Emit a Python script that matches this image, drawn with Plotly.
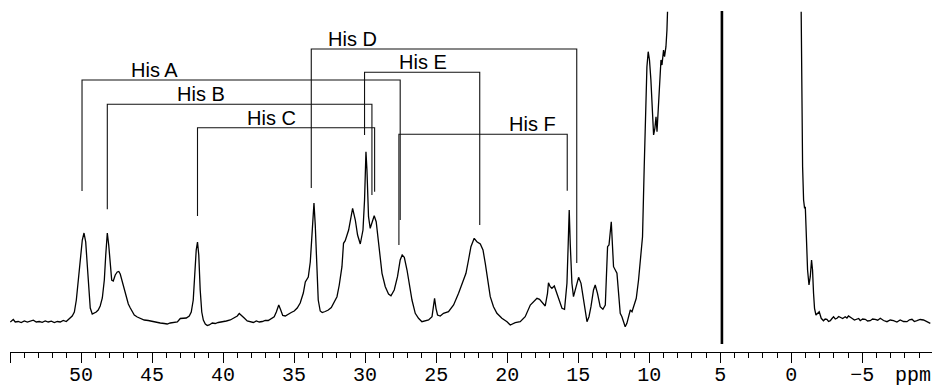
import plotly.graph_objects as go

# ---- spectrum (ppm, intensity in arbitrary units); off-scale region split in two segments
left_ppm = [54.98, 54.77, 54.63, 54.42, 54.21, 53.99, 53.78, 53.57, 53.36, 53.15, 52.94, 52.73, 52.52, 52.31,
            52.09, 51.88, 51.67, 51.46, 51.25, 51.04, 50.90, 50.76, 50.62, 50.47, 50.33, 50.19, 50.05, 49.91,
            49.79, 49.67, 49.56, 49.45, 49.35, 49.21, 49.07, 48.93, 48.79, 48.65, 48.50, 48.36, 48.26, 48.15,
            48.05, 47.94, 47.84, 47.73, 47.59, 47.45, 47.34, 47.24, 47.10, 46.96, 46.81, 46.67, 46.53, 46.39,
            46.25, 46.04, 45.83, 45.55, 45.27, 44.98, 44.70, 44.42, 44.14, 43.93, 43.72, 43.44, 43.22, 43.01,
            42.80, 42.59, 42.38, 42.24, 42.10, 41.99, 41.89, 41.80, 41.71, 41.61, 41.50, 41.39, 41.25, 41.11,
            40.97, 40.76, 40.55, 40.34, 40.06, 39.77, 39.49, 39.21, 39.00, 38.86, 38.72, 38.51, 38.30, 38.09,
            37.87, 37.66, 37.45, 37.24, 37.03, 36.82, 36.61, 36.40, 36.25, 36.08, 35.94, 35.80, 35.62, 35.41,
            35.20, 34.99, 34.78, 34.57, 34.35, 34.21, 34.00, 33.86, 33.76, 33.65, 33.60, 33.51, 33.40, 33.30,
            33.16, 33.02, 32.81, 32.59, 32.38, 32.17, 31.98, 31.82, 31.63, 31.52, 31.40, 31.16, 31.01, 30.88,
            30.69, 30.53, 30.34, 30.15, 30.04, 29.94, 29.87, 29.76, 29.64, 29.52, 29.36, 29.22, 29.05, 28.93,
            28.81, 28.58, 28.35, 28.18, 27.95, 27.72, 27.53, 27.39, 27.24, 27.05, 26.87, 26.70, 26.47, 26.24,
            26.00, 25.77, 25.53, 25.29, 25.18, 25.11, 25.01, 24.90, 24.71, 24.48, 24.13, 23.77, 23.42, 23.18,
            22.90, 22.72, 22.55, 22.32, 22.13, 21.89, 21.70, 21.54, 21.38, 21.19, 20.96, 20.72, 20.37, 20.01,
            19.78, 19.43, 19.08, 18.73, 18.37, 18.14, 17.90, 17.72, 17.55, 17.32, 17.16, 17.09, 16.97, 16.85,
            16.68, 16.54, 16.38, 16.14, 15.96, 15.79, 15.70, 15.63, 15.56, 15.44, 15.33, 15.21, 14.97, 14.80,
            14.66, 14.50, 14.38, 14.24, 14.10, 13.92, 13.80, 13.64, 13.45, 13.26, 13.09, 12.93, 12.83, 12.67,
            12.58, 12.51, 12.27, 12.16, 12.04, 11.92, 11.69, 11.57, 11.33, 11.21, 11.05, 10.91, 10.75, 10.58,
            10.47, 10.35, 10.26, 10.16, 10.07, 9.98, 9.88, 9.79, 9.69, 9.60, 9.52, 9.45, 9.36, 9.27, 9.17,
            9.10, 8.99, 8.92, 8.82, 8.75, 8.71]
left_int = [0, 2.5, 0, 0.5, -0.5, 1, 0, 0.7, 1.8, 0, 0.5, -0.3, 1, 0,
            0.8, -0.5, 0.5, 0, 1.5, 0.5, 2.5, 4, 6, 10, 22, 42, 64, 82,
            89, 80, 57, 32, 14, 8, 9, 10, 12, 16, 24, 42, 67, 89,
            77, 54, 42, 41, 47, 50, 50.5, 48, 41, 32, 24, 18, 14, 10,
            7, 5, 3.5, 2, 1.5, 0.5, -0.5, -1, -1.5, -2, -1, -0.5, 0, 3.5,
            3.5, 4, 6, 10, 22, 47, 72, 80, 67, 32, 10, 2, -2, -3.5,
            -3, -1, -1.5, -0.5, 0, 1, 2, 4, 6, 8.5, 7, 4, 1, 0.5,
            -0.5, 1, 0, 0.5, 1.5, 1.5, 3, 5.3, 10, 17, 12, 6.5, 6, 8,
            9.5, 11, 14, 19, 29, 40, 45, 60, 87, 117, 119, 97, 52, 22,
            11, 9.5, 10.5, 12, 14.5, 20, 25.3, 37, 55.3, 78.7, 81.3, 92, 105, 113.7,
            102, 87, 78, 92, 122, 170.3, 152, 105.3, 93.7, 100.3, 106.3, 100.3, 78.7, 62,
            48.7, 35.3, 28, 26.3, 32, 45.3, 62, 67, 64.7, 52, 35.3, 22, 8.7, 3.7,
            0.3, 1.3, 2, 5.3, 15.3, 23.7, 13.7, 7, 6, 8.7, 10.3, 17, 28.7, 38.7,
            48.7, 62, 75.3, 83.7, 80.3, 78, 72, 58.7, 42, 25.3, 15.3, 8.7, 3.7, 0.3,
            -3, -0.7, 0.3, 5.3, 17, 20.3, 23.7, 22.7, 20.3, 16, 28.7, 39.3, 35.3, 33.7,
            36, 30.3, 25.3, 13.7, 12.7, 38.7, 78.7, 112, 78.7, 38.7, 25.3, 32, 44.7, 38.7,
            25.3, 7, 0.3, 5.3, 15.3, 32, 37, 28.7, 15.3, 12.7, 17, 75.3, 77, 100.3,
            78.7, 55.3, 48.7, 32, 8.7, 5.3, -4.7, -1.3, 12, 10.3, 17, 23.7, 42, 68.7,
            85.3, 155.3, 212, 255.3, 270.3, 262, 242, 212, 187, 193.7, 205.3, 190.3, 212, 245.3, 262,
            257, 272, 265.3, 275.3, 292, 310.3]

right_ppm = [-0.70, -0.75, -0.80, -0.87, -0.94, -0.99, -1.06, -1.15, -1.25, -1.34, -1.43, -1.50, -1.57,
             -1.64, -1.74, -1.85, -1.97, -2.11, -2.27, -2.39, -2.51, -2.63, -2.75, -2.87, -2.98, -3.10,
             -3.22, -3.34, -3.45, -3.62, -3.80, -3.92, -4.03, -4.15, -4.27, -4.45, -4.63, -4.75, -4.86,
             -5.03, -5.21, -5.38, -5.56, -5.73, -5.91, -6.09, -6.27, -6.50, -6.74, -6.97, -7.20, -7.44,
             -7.67, -7.91, -8.15, -8.32, -8.50, -8.67, -8.85, -9.08, -9.31, -9.55, -9.79]
right_int = [310.3, 222, 155.3, 122, 113.7, 115.3, 88.7, 52, 37, 45.3, 62, 52, 28.7,
             13.7, 7, 8.7, 10.3, 3.7, 1.3, 3, 2.7, 0.5, 1.3, 3.5, 5.3, 3,
             3.7, 5.5, 4.7, 3.5, 5.3, 4, 6, 4.5, 3.7, 2, 2.7, 3.5, 1.3,
             3, 2.7, 1, 1.3, 3, 2.7, 1.8, 3.7, 1.5, 0.3, 2, 1.3, 0,
             2, 0.5, 0.3, 2.2, 2.7, 0.5, 1.3, 2.5, 2, 0.2, -1.3]

# ---- solvent marker line
water_ppm = [4.88, 4.88]
water_int = [-22, 311]

# ---- assignment brackets
his_labels = ["His A", "His B", "His C", "His D", "His E", "His F"]
his_left_ppm = [49.93, 48.15, 41.80, 33.79, 30.04, 27.62]
his_right_ppm = [27.53, 29.52, 29.33, 15.10, 21.93, 15.77]
his_level = [242, 217.7, 194.3, 273, 249.7, 187.7]
his_left_end = [131, 112.7, 106, 134, 187, 77]
his_right_end = [102, 127, 130.3, 59, 97, 131.3]
his_label_ppm = [44.86, 41.53, 36.61, 30.90, 25.91, 18.23]

# ---- axis ticks
tick_vals = [55, 50, 45, 40, 35, 30, 25, 20, 15, 10, 5, 0, -5]
tick_text = ["", "50", "45", "40", "35", "30", "25", "20", "15", "10", "5", "0", "\u22125"]
axis_unit = "ppm"

fig = go.Figure()

line_style = dict(color="black", width=1.3)
fig.add_trace(go.Scatter(x=left_ppm, y=left_int, mode="lines", line=line_style, hoverinfo="skip"))
fig.add_trace(go.Scatter(x=right_ppm, y=right_int, mode="lines", line=line_style, hoverinfo="skip"))
fig.add_trace(go.Scatter(x=water_ppm, y=water_int, mode="lines",
                         line=dict(color="black", width=2.6), hoverinfo="skip"))

for lab, xl, xr, lev, bl, br, xt in zip(his_labels, his_left_ppm, his_right_ppm, his_level,
                                         his_left_end, his_right_end, his_label_ppm):
    fig.add_trace(go.Scatter(x=[xl, xl, xr, xr], y=[bl, lev, lev, br], mode="lines",
                             line=dict(color="#111111", width=1.1), hoverinfo="skip"))
    fig.add_annotation(x=xt, y=lev, text=lab, showarrow=False, xanchor="center", yanchor="bottom",
                       yshift=-3, font=dict(family="Liberation Sans, Arial", size=20, color="black"))

fig.add_annotation(x=-8.57, y=0, yref="paper", text=axis_unit, showarrow=False, xanchor="center",
                   yanchor="middle", yshift=-23,
                   font=dict(family="Liberation Mono, Courier New", size=20, color="black"))

fig.update_layout(
    width=932, height=386,
    margin=dict(l=10, r=0, t=0, b=34, autoexpand=False),
    paper_bgcolor="white", plot_bgcolor="white",
    showlegend=False,
    xaxis=dict(range=[55, -9.91], tickvals=tick_vals, ticktext=tick_text, automargin=False,
               ticks="outside", ticklen=10, tickwidth=1.3, tickcolor="black", ticklabelstandoff=-6,
               showline=True, linecolor="black", linewidth=1.3, showgrid=False, zeroline=False,
               tickfont=dict(family="Liberation Mono, Courier New", size=20, color="black"),
               minor=dict(dtick=1, tick0=0, ticks="outside", ticklen=5, tickwidth=1, tickcolor="black",
                          showgrid=False)),
    yaxis=dict(range=[-30, 322], visible=False, showgrid=False, zeroline=False, automargin=False),
)

fig.write_html("out.html")
